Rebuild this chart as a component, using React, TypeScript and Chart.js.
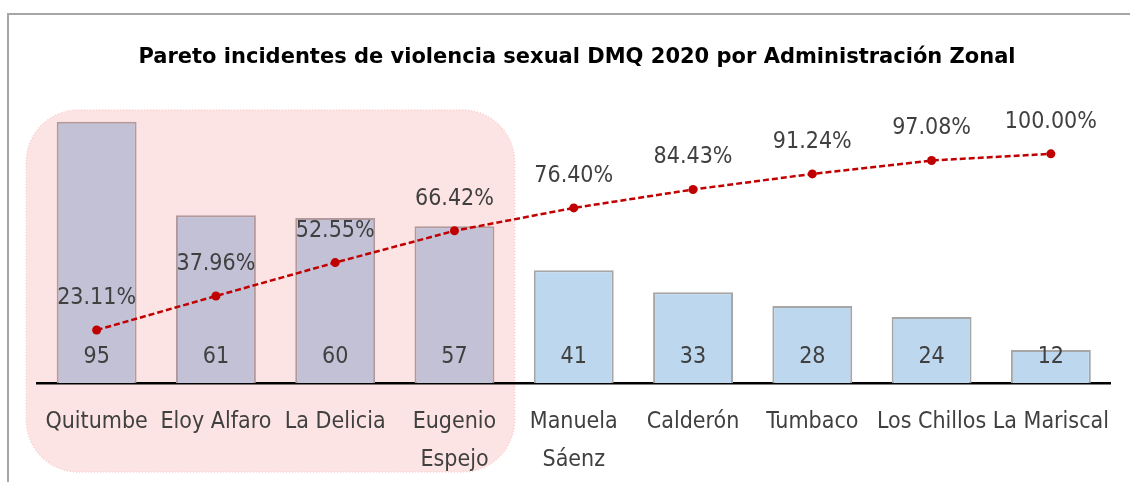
import React, { useEffect, useRef } from "react";
import { Chart, registerables } from "chart.js";

Chart.register(...registerables);

const TITLE = "Pareto incidentes de violencia sexual DMQ 2020 por Administración Zonal";
const categories: (string | string[])[] = [
  "Quitumbe",
  "Eloy Alfaro",
  "La Delicia",
  ["Eugenio", "Espejo"],
  ["Manuela", "Sáenz"],
  "Calderón",
  "Tumbaco",
  "Los Chillos",
  "La Mariscal",
];
const incidents = [95, 61, 60, 57, 41, 33, 28, 24, 12];
const cumulativePct = [23.11, 37.96, 52.55, 66.42, 76.4, 84.43, 91.24, 97.08, 100.0];
const highlightedCount = 4;

const TITLE_FONT = "'DejaVu Sans', sans-serif";
const FONT = "'DejaVu Sans Condensed', 'DejaVu Sans', sans-serif";
const TEXT = "#404040";

export default function App() {
  const ref = useRef<HTMLCanvasElement | null>(null);

  useEffect(() => {
    if (!ref.current) return;
    const barFill = incidents.map((_, i) => (i < highlightedCount ? "#c3c1d6" : "#bdd7ee"));
    const barBorder = incidents.map((_, i) => (i < highlightedCount ? "#b09a9d" : "#a6a6a6"));

    const decor = {
      id: "decor",
      beforeDraw(chart: any) {
        const ctx = chart.ctx;
        ctx.save();
        ctx.fillStyle = "#ffffff";
        ctx.fillRect(0, 0, chart.width, chart.height);
        ctx.strokeStyle = "#a6a6a6";
        ctx.lineWidth = 2;
        ctx.beginPath();
        ctx.moveTo(8, chart.height);
        ctx.lineTo(8, 14);
        ctx.lineTo(chart.width, 14);
        ctx.stroke();
        // title
        ctx.fillStyle = "#000000";
        ctx.font = `bold 21px ${TITLE_FONT}`;
        ctx.textAlign = "center";
        ctx.textBaseline = "middle";
        ctx.fillText(TITLE, 577, 58);

        // highlight box behind the first categories
        const x = chart.scales.x;
        const step = x.getPixelForValue(1) - x.getPixelForValue(0);
        const left = x.getPixelForValue(0) - step * 0.59;
        const right = x.getPixelForValue(highlightedCount - 1) + step * 0.5 + 0.5;
        const top = 110;
        const bottom = 472;
        const r = 52;
        ctx.beginPath();
        ctx.moveTo(left + r, top);
        ctx.lineTo(right - r, top);
        ctx.arcTo(right, top, right, top + r, r);
        ctx.lineTo(right, bottom - r);
        ctx.arcTo(right, bottom, right - r, bottom, r);
        ctx.lineTo(left + r, bottom);
        ctx.arcTo(left, bottom, left, bottom - r, r);
        ctx.lineTo(left, top + r);
        ctx.arcTo(left, top, left + r, top, r);
        ctx.closePath();
        ctx.fillStyle = "#fde4e4";
        ctx.fill();
        ctx.setLineDash([1, 2]);
        ctx.strokeStyle = "#f8cccc";
        ctx.lineWidth = 1.5;
        ctx.stroke();
        ctx.restore();
      },
      afterDatasetsDraw(chart: any) {
        const ctx = chart.ctx;
        ctx.save();
        ctx.fillStyle = TEXT;
        ctx.font = `23px ${FONT}`;
        ctx.textAlign = "center";
        ctx.textBaseline = "middle";
        const bars = chart.getDatasetMeta(0).data;
        bars.forEach((b: any, i: number) => {
          ctx.fillText(String(incidents[i]), b.x, b.base - 26);
        });
        const pts = chart.getDatasetMeta(1).data;
        pts.forEach((p: any, i: number) => {
          ctx.fillText(cumulativePct[i].toFixed(2) + "%", p.x, p.y - 32);
        });
        ctx.restore();
      },
    };

    const chart = new Chart(ref.current, {
      data: {
        labels: categories,
        datasets: [
          {
            type: "bar",
            data: incidents,
            backgroundColor: barFill,
            borderColor: barBorder,
            borderWidth: 2,
            borderSkipped: "bottom",
            yAxisID: "y",
            categoryPercentage: 1,
            barPercentage: 0.67,
            order: 2,
          },
          {
            type: "line",
            data: cumulativePct,
            yAxisID: "y1",
            borderColor: "#c00000",
            backgroundColor: "#c00000",
            borderWidth: 2.5,
            borderDash: [6, 3],
            pointRadius: 4.5,
            pointBackgroundColor: "#c00000",
            pointBorderWidth: 0,
            tension: 0,
            order: 1,
          },
        ],
      } as any,
      options: {
        animation: false,
        responsive: false,
        layout: { padding: { left: 37, right: 19, top: 108, bottom: 0 } },
        plugins: { legend: { display: false }, tooltip: { enabled: false }, title: { display: false } },
        scales: {
          x: {
            grid: { display: false, drawTicks: false },
            border: { display: true, color: "#000000", width: 2.5 },
            ticks: {
              color: TEXT,
              font: { family: FONT, size: 23, lineHeight: 1.65 } as any,
              padding: 20,
              maxRotation: 0,
              autoSkip: false,
            },
            afterFit(scale: any) {
              scale.height = 99;
            },
          },
          y: { display: false, min: 0, max: 100 },
          y1: { display: false, min: 0, max: 120 },
        },
      } as any,
      plugins: [decor],
    });
    return () => chart.destroy();
  }, []);

  return (
    <div style={{ position: "fixed", left: 0, top: 0, width: 1130, height: 482, background: "#fff" }}>
      <canvas ref={ref} width={1130} height={482} style={{ display: "block" }} />
    </div>
  );
}
